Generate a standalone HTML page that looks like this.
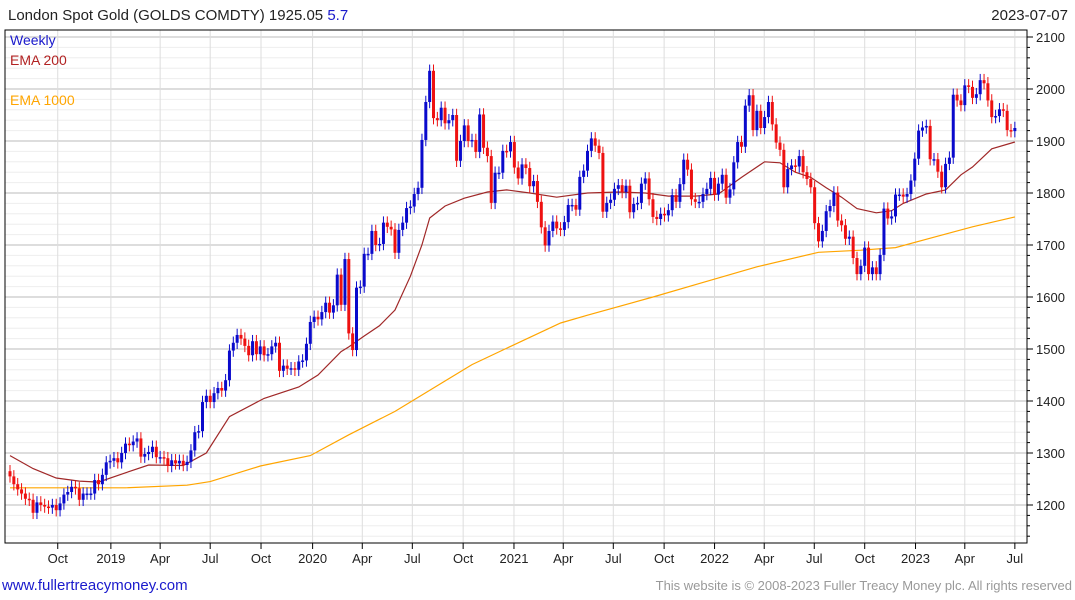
<!DOCTYPE html>
<html><head><meta charset="utf-8"><style>
body{margin:0;background:#fff;font-family:"Liberation Sans",sans-serif;}
svg{display:block}
</style></head><body>
<svg id="chart" width="1075" height="600">
<text x="8" y="20" font-size="15" fill="#222">London Spot Gold (GOLDS COMDTY) 1925.05 <tspan fill="#1a1acc">5.7</tspan></text>
<text x="1068" y="20" font-size="15" fill="#222" text-anchor="end">2023-07-07</text>
<g id="grid"></g>
<g id="emas"></g>
<g id="candles"></g>
<rect x="5" y="30" width="1022" height="513" fill="none" stroke="#000" stroke-width="1"/>
<g id="axes"></g>
<text x="10" y="45" font-size="14" fill="#1a1acc">Weekly</text>
<text x="10" y="65" font-size="14" fill="#b22222">EMA 200</text>
<text x="10" y="105" font-size="14" fill="#ffa500">EMA 1000</text>
<text x="2" y="590" font-size="15" fill="#1a1acc">www.fullertreacymoney.com</text>
<text x="1072" y="590" font-size="13" fill="#999" text-anchor="end">This website is © 2008-2023 Fuller Treacy Money plc. All rights reserved</text>
</svg>
<script>
const closes=[
1255,1240,1230,1222, 1212,1210,1185,1205,1200, 1197,1195,1200,1190, 1203,1220,1225,1235, 1232,1210,1222,1222,1222, 1248,1240,1258,1282,
1285,1290,1282,1300, 1318,1315,1322,1328, 1293,1298,1302,1312,1292, 1292,1290,1275,1286, 1280,1285,1277,1283,1305, 1340,1342,1398,1410,
1398,1415,1425,1420, 1440,1497,1512,1527,1520, 1506,1488,1515,1490, 1505,1488,1490,1505, 1512,1458,1468,1462,1463, 1460,1476,1478,1510,
1552,1562,1557,1571,1589, 1570,1584,1643,1585, 1673,1530,1498,1618, 1620,1683,1683,1727, 1700,1702,1743,1735,1730, 1685,1729,1743,1771,
1774,1798,1810,1902,1975, 2035,1944,1940,1964, 1934,1940,1950,1862, 1900,1930,1900,1902,1879, 1951,1887,1871,1781, 1839,1839,1881,1880,
1898,1849,1828,1855,1848, 1813,1823,1783,1734, 1699,1727,1745,1732, 1729,1744,1777,1777,1768, 1831,1843,1881,1905, 1891,1877,1764,1781,
1787,1808,1815,1802,1814, 1763,1779,1781,1818, 1828,1788,1754,1750, 1760,1757,1767,1796,1783, 1817,1864,1845,1788, 1783,1783,1798,1808,1829,
1797,1818,1835,1791, 1807,1859,1898,1889, 1968,1988,1921,1958, 1925,1946,1975,1932,1897, 1883,1811,1846,1853, 1851,1871,1840,1827,
1811,1742,1707,1727,1765, 1775,1801,1747,1738, 1712,1716,1675,1644,1660, 1695,1644,1657,1644, 1681,1770,1751,1755, 1797,1797,1793,1798,1824,
1866,1920,1926,1929, 1865,1865,1841,1811, 1856,1868,1989,1978,1969, 2007,2004,1983,1990, 2017,2011,1978,1946, 1948,1961,1958,1921,1919, 1925];
const ema200Idx=[0,6,12,18,23,30,36,45,51,57,66,75,80,86,88,92,96,100,104,107,109,113,118,124,129,135,142,150,158,165,171,178,184,190,196,200,204,208,212,216,220,225,229,232,238,243,247,250,255,261];
const ema200Val=[1295,1270,1252,1246,1244,1262,1277,1276,1300,1370,1405,1427,1450,1495,1504,1525,1545,1575,1640,1700,1752,1775,1790,1802,1806,1800,1792,1800,1802,1800,1794,1794,1798,1830,1860,1858,1840,1830,1810,1792,1770,1762,1766,1780,1798,1806,1835,1850,1885,1898];
const ema1000Idx=[0,30,46,52,65,78,88,100,110,120,130,143,150,167,180,194,210,221,230,240,250,261];
const ema1000Val=[1233,1233,1238,1245,1275,1295,1335,1380,1425,1470,1505,1550,1565,1600,1628,1658,1686,1690,1695,1715,1735,1754];
const yTicks=[1200,1300,1400,1500,1600,1700,1800,1900,2000,2100];
const xLabels=["Oct","2019","Apr","Jul","Oct","2020","Apr","Jul","Oct","2021","Apr","Jul","Oct","2022","Apr","Jul","Oct","2023","Apr","Jul"];
const xLabelWeeks=[12.4,26.2,39,52,65.2,78.6,91.5,104.5,117.7,130.9,143.7,156.7,169.9,183,195.9,208.9,222,235.2,248,261];
const NS="http://www.w3.org/2000/svg";
const n=closes.length;
const xs=i=>10+i*3.85;
const ys=v=>37+(2100-v)*0.52;
function mk(tag,attrs,parent){const e=document.createElementNS(NS,tag);for(const k in attrs)e.setAttribute(k,attrs[k]);parent.appendChild(e);return e;}
const grid=document.getElementById('grid'),axes=document.getElementById('axes');
for(let v=1140;v<=2110;v+=20){const y=ys(v);if(y<30||y>543)continue;
 const l=mk('line',{x1:5,x2:1027,y1:y,y2:y,stroke:v%100===0?'#bbb':'#eee','stroke-width':1},grid);
 
 
 mk('line',{x1:1027,x2:v%100===0?1033:1030,y1:y,y2:y,stroke:'#000'},axes);}
yTicks.forEach(v=>{const t=mk('text',{x:1036,y:ys(v)+5,'font-size':13,fill:'#222'},axes);t.textContent=v;
 
 });
xLabels.forEach((s,k)=>{const x=xs(xLabelWeeks[k]);
 const l=mk('line',{x1:x,x2:x,y1:30,y2:543,stroke:'#ddd'},grid);
 
 
 mk('line',{x1:x,x2:x,y1:543,y2:549,stroke:'#000'},axes);
 const t=mk('text',{x:x,y:563,'font-size':13,fill:'#222','text-anchor':'middle'},axes);t.textContent=s;
 
 });
function line(idx,val,color,name){let d='';idx.forEach((i,k)=>{d+=(k?'L':'M')+xs(i).toFixed(1)+','+ys(val[k]).toFixed(1);});
 const p=mk('path',{d:d,fill:'none',stroke:color,'stroke-width':1.2},document.getElementById('emas'));
 
 }
line(ema1000Idx,ema1000Val,'#ffa500','ema-1000-line');
line(ema200Idx,ema200Val,'#a02828','ema-200-line');
const cg=document.getElementById('candles');
for(let i=0;i<n;i++){const o=i?closes[i-1]:closes[0]+10,c=closes[i];const up=c>=o;const col=up?'#0a0acc':'#ee1111';
 const hi=Math.max(o,c)+12,lo=Math.min(o,c)-12;const x=xs(i);
 const g=mk('g',{},cg);
 
 
 mk('line',{x1:x,x2:x,y1:ys(hi),y2:ys(lo),stroke:col,'stroke-width':1},g);
 const top=ys(Math.max(o,c)),h=Math.max(1.5,ys(Math.min(o,c))-top);
 mk('rect',{x:x-1.5,y:top,width:3,height:h,fill:col},g);}
</script>
</body></html>
